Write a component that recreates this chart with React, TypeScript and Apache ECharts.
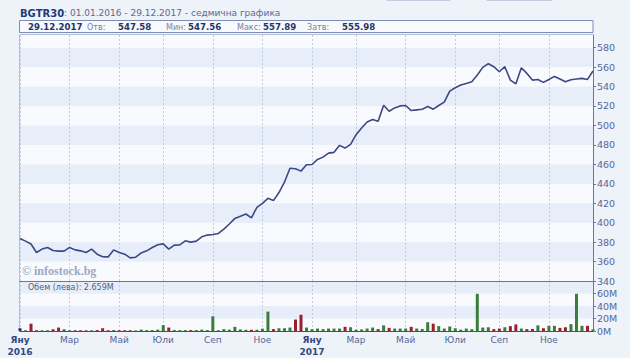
import React, { useEffect, useRef } from "react";
import * as echarts from "echarts";

const START_DATE = "2016-01-01";
const WEEK_COUNT = 105;
const MONTHS = ["Яну", "Фев", "Мар", "Апр", "Май", "Юни", "Юли", "Авг", "Сеп", "Окт", "Ное", "Дек"];

const closes = [
  383.7, 381, 378, 369.3, 372.8, 374.5, 371.3, 370.7, 370.7, 374.5,
  372, 371, 369.3, 372.8, 367.6, 365, 364.8, 372, 369.3, 367.6,
  363.8, 364.5, 368.9, 371, 374.5, 377.2, 378.2, 372.8, 376.9, 377.2,
  381.3, 380, 381, 385.5, 387.2, 387.9, 388.9, 393.4, 398.6, 404.4,
  406.5, 408.9, 405, 415.8, 419.9, 425, 422.7, 431, 441.6, 456,
  455.4, 453, 459.5, 459.8, 465, 467.4, 471.5, 472.3, 479.5, 476.7,
  480.5, 490.5, 497.4, 503.6, 506, 504.3, 520.8, 514.6, 518, 520.1,
  520.5, 515.3, 516, 516.7, 519.4, 516.7, 520.5, 523.9, 535.3, 538.7,
  541.5, 543.2, 544.9, 551.8, 559.7, 563.5, 560.4, 555.2, 560.4, 546.6,
  542.8, 559.3, 553.5, 546.6, 547.3, 544.3, 547.3, 550.4, 547.7, 544.9,
  547, 547.7, 548.4, 547.3, 555.98,
];

// weekly turnover, millions of leva
const volumesM = [
  4.4, 1.0, 11.7, 1.2, 1.2, 1.2, 2.8, 5.5, 2.8, 1.2,
  1.2, 1.2, 1.0, 1.2, 1.5, 4.4, 1.2, 1.5, 1.2, 1.2,
  1.2, 1.0, 2.2, 1.5, 1.5, 2.2, 9.4, 5.5, 1.5, 1.5,
  1.5, 1.5, 1.5, 2.2, 1.5, 23.5, 1.2, 3, 2.2, 6.7,
  2.5, 2, 2, 2, 3.7, 31, 3, 4.4, 4.4, 5.5,
  18.3, 26, 5.5, 3, 3.9, 3, 3.9, 3.9, 3.9, 6.7,
  6, 2.2, 2.5, 3.9, 5.5, 3, 9, 5, 3.9, 3.9,
  3.9, 6.7, 3.9, 3.3, 14, 11.7, 7.8, 3.9, 7.2, 4.4,
  2.2, 3.9, 3, 59.5, 5.5, 6, 3, 3.9, 6, 7.8,
  10.5, 3.9, 3, 3.3, 9, 4.4, 8.3, 8.3, 5, 6,
  11, 59.5, 8.3, 8.3, 2.659,
];

const yTicksMain = { min: 340, max: 593, interval: 20 };
const yTicksVol = { min: 0, max: 80, interval: 20 };

const infoLabels = ["Отв:", "Мин:", "Макс:", "Затв:"];
const infoValues = ["547.58", "547.56", "557.89", "555.98"];
const infoDate = "29.12.2017";

function buildDates(): Date[] {
  const out: Date[] = [];
  const s = new Date(START_DATE + "T00:00:00Z");
  for (let i = 0; i < WEEK_COUNT; i++) {
    out.push(new Date(s.getTime() + i * 7 * 86400000));
  }
  return out;
}

const FONT = "DejaVu Sans, Verdana, sans-serif";
const GREEN = "#3a7d3a";
const RED = "#99202f";
const NAVY = "#1f3466";

export default function App() {
  const ref = useRef<HTMLDivElement>(null);
  useEffect(() => {
    if (!ref.current) return;
    const chart = echarts.init(ref.current, undefined, { renderer: "svg" });
    const dates = buildDates();
    const cats = dates.map((d) => d.toISOString().slice(0, 10));
    const isMark = (i: number) => {
      if (i === 0) return true;
      const m = dates[i].getUTCMonth();
      const pm = dates[i - 1].getUTCMonth();
      return m !== pm && m % 2 === 0;
    };
    const labelFor = (i: number) => {
      const d = dates[i];
      const m = d.getUTCMonth();
      if (m === 0) return "{b|" + MONTHS[0] + "}\n{b|" + d.getUTCFullYear() + "}";
      return MONTHS[m];
    };
    const volData = volumesM.map((v, i) => ({
      value: v * 1e6,
      itemStyle: {
        color: i === 0 ? NAVY : closes[i] >= closes[i - 1] ? GREEN : RED,
      },
    }));

    const infoX = [87, 166, 237, 307];
    const valX = [118, 188, 263, 342];
    const infoTexts: any[] = [];
    infoLabels.forEach((l, k) => {
      infoTexts.push({
        type: "text",
        x: infoX[k],
        y: 27,
        style: { text: l, fill: "#7684a6", font: "8px " + FONT, verticalAlign: "middle" },
      });
      infoTexts.push({
        type: "text",
        x: valX[k],
        y: 27,
        style: { text: infoValues[k], fill: NAVY, font: "bold 8.6px " + FONT, verticalAlign: "middle" },
      });
    });

    const axisLabelColor = "#55669a";

    chart.setOption({
      animation: false,
      backgroundColor: "#eef2f9",
      grid: [
        { left: 20, right: 37, top: 35, height: 246, show: true, borderColor: "#7f8cb6", borderWidth: 1, backgroundColor: "transparent" },
        { left: 20, right: 37, top: 281, height: 50, show: true, borderColor: "#7f8cb6", borderWidth: 1, backgroundColor: "transparent" },
      ],
      xAxis: [
        {
          type: "category",
          gridIndex: 0,
          data: cats,
          boundaryGap: false,
          axisLine: { show: true, lineStyle: { color: "#6676a8" } },
          axisTick: { show: false },
          axisLabel: { show: false },
          splitLine: { show: true, interval: (i: number) => isMark(i), lineStyle: { color: "#c3cbe3", type: [2, 2], width: 1 } },
        },
        {
          type: "category",
          gridIndex: 1,
          data: cats,
          boundaryGap: false,
          axisLine: { show: true, lineStyle: { color: "#3f4e80" } },
          axisTick: { show: false },
          splitLine: { show: true, interval: (i: number) => isMark(i), lineStyle: { color: "#c3cbe3", type: [2, 2], width: 1 } },
          axisLabel: {
            show: true,
            interval: (i: number) => isMark(i),
            formatter: (_v: string, i: number) => labelFor(i),
            color: axisLabelColor,
            fontFamily: FONT,
            fontSize: 9,
            margin: 3,
            lineHeight: 12,
            rich: { b: { fontWeight: "bold", color: "#34477e", fontSize: 9, fontFamily: FONT, lineHeight: 12 } },
          },
        },
      ],
      yAxis: [
        {
          type: "value",
          gridIndex: 0,
          position: "right",
          min: yTicksMain.min,
          max: yTicksMain.max,
          interval: yTicksMain.interval,
          axisLine: { show: true, lineStyle: { color: "#6676a8" } },
          axisTick: { show: true, length: 3, lineStyle: { color: "#6676a8" } },
          axisLabel: { color: axisLabelColor, fontFamily: FONT, fontSize: 9.5, margin: 4, showMaxLabel: false },
          splitLine: { show: false },
          splitArea: { show: true, areaStyle: { color: ["#f9fafe", "#e7edf9"] } },
        },
        {
          type: "value",
          gridIndex: 1,
          position: "right",
          min: yTicksVol.min * 1e6,
          max: yTicksVol.max * 1e6,
          interval: yTicksVol.interval * 1e6,
          axisLine: { show: true, lineStyle: { color: "#6676a8" } },
          axisTick: { show: true, length: 3, lineStyle: { color: "#6676a8" } },
          axisLabel: {
            color: axisLabelColor,
            fontFamily: FONT,
            fontSize: 9.5,
            margin: 4,
            showMaxLabel: false,
            formatter: (v: number) => Math.round(v / 1e6) + "M",
          },
          splitLine: { show: false },
          splitArea: { show: true, areaStyle: { color: ["#f9fafe", "#e7edf9"] } },
        },
      ],
      series: [
        {
          type: "line",
          xAxisIndex: 0,
          yAxisIndex: 0,
          data: closes,
          symbol: "none",
          lineStyle: { color: "#3d4886", width: 1.6 },
          z: 5,
        },
        {
          type: "bar",
          xAxisIndex: 1,
          yAxisIndex: 1,
          data: volData,
          barWidth: 3,
          z: 5,
        },
      ],
      graphic: [
        { type: "rect", shape: { x: 387, y: -10, width: 63, height: 10.5 }, style: { fill: "#e3e8f3", stroke: "#c4cbe0" } },
        { type: "rect", shape: { x: 487, y: -10, width: 65, height: 10.5 }, style: { fill: "#e3e8f3", stroke: "#c4cbe0" } },
        {
          type: "text",
          x: 20,
          y: 13,
          style: {
            text: "{t|BGTR30}{s|: 01.01.2016 - 29.12.2017 - седмична графика}",
            verticalAlign: "middle",
            rich: {
              t: { font: "bold 10px " + FONT, fill: "#1e3a78" },
              s: { font: "9px " + FONT, fill: "#5b6a90" },
            },
          },
        },
        {
          type: "rect",
          shape: { x: 19.5, y: 20.5, width: 573.5, height: 12 },
          style: { fill: "#f7f9fd", stroke: "#7f8cb6", lineWidth: 1 },
        },
        {
          type: "text",
          x: 28,
          y: 27,
          style: { text: infoDate, fill: NAVY, font: "bold 8.6px " + FONT, verticalAlign: "middle" },
        },
        ...infoTexts,
        {
          type: "text",
          x: 22,
          y: 271,
          z: 10,
          style: { text: "© infostock.bg", fill: "#9ea8c4", font: "bold 12px 'Liberation Serif', serif", verticalAlign: "middle" },
        },
        {
          type: "text",
          x: 28,
          y: 287,
          z: 10,
          style: { text: "Обем (лева): 2.659M", fill: "#4f5f88", font: "8px " + FONT, verticalAlign: "middle" },
        },
      ],
    });
    return () => chart.dispose();
  }, []);
  return <div ref={ref} style={{ position: "fixed", left: 0, top: 0, width: 630, height: 358 }} />;
}
